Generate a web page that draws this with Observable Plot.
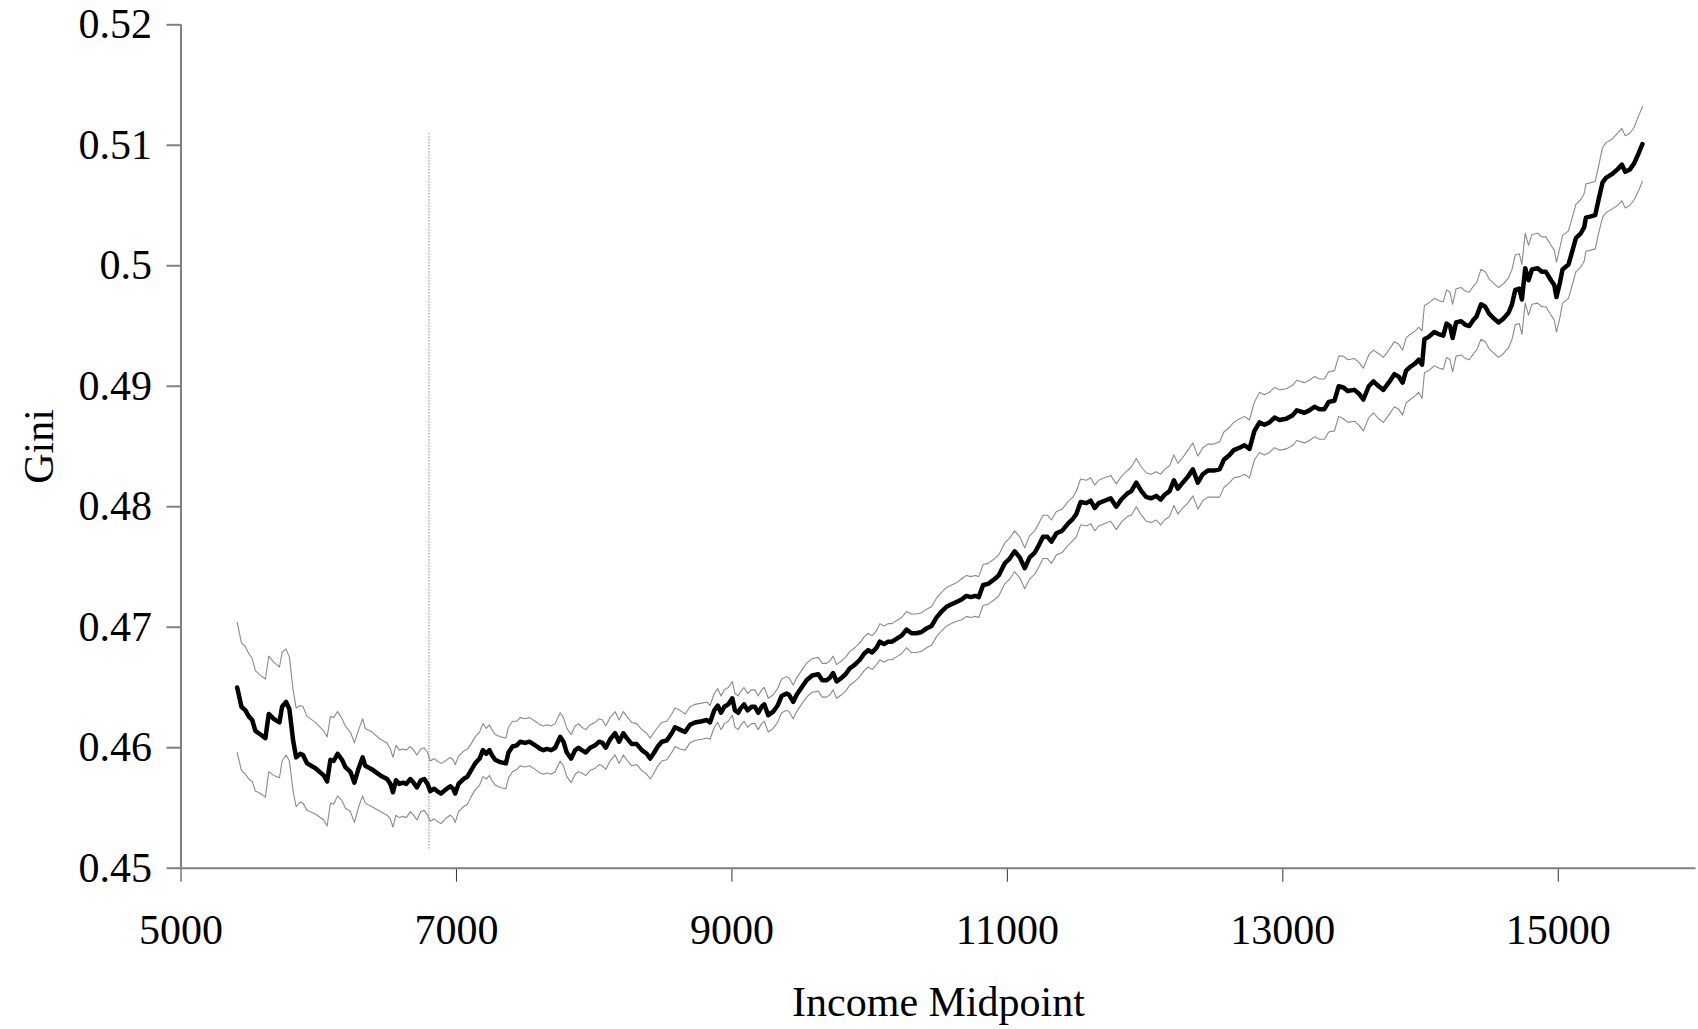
<!DOCTYPE html>
<html>
<head>
<meta charset="utf-8">
<script src="https://cdn.jsdelivr.net/npm/d3@7"></script>
<script src="https://cdn.jsdelivr.net/npm/@observablehq/plot@0.6"></script>
<style>
  html, body { margin: 0; padding: 0; background: #fff; }
  #chart svg { display: block; }
</style>
</head>
<body>
<div id="chart"></div>
<script>
// ---- Data ----
const income = [
  5408,5439,5468,5492,5517,5540,5577,5613,5637,5673,5715,5734,5763,5787,5814,5836,5867,5886,5915,5976,
  6036,6061,6085,6108,6137,6169,6193,6230,6259,6290,6319,6338,6387,6447,6496,6520,6539,6561,6585,6612,
  6636,6665,6689,6713,6742,6766,6790,6810,6839,6859,6888,6919,6955,6975,6991,7015,7051,7080,7105,7136,
  7168,7192,7216,7240,
  7257,7281,7318,7359,7378,7407,7439,7463,7499,7530,7572,7608,7632,7656,7688,7717,7753,7777,7801,7833,
  7862,7886,7910,7939,7971,8007,8036,8060,8084,8116,8152,8181,8212,8237,8273,8309,8346,8382,8406,8430,
  8462,8491,8527,8563,8587,8623,8660,8696,8732,8781,8817,8841,8872,8897,8921,8945,8974,9003,9022,9046,
  9059,9088,9114,9143,9167,9191,9216,9235,9264,9300,9332,9361,9397,9414,9445,9470,9506,9542,9583,9627,
  9656,9688,9711,9735,9760,9796,9825,9857,9893,9929,9960,9989,10018,10050,10074,10105,10134,10163,10203,10232,
  10268,10304,10340,10377,10413,10449,10485,10522,10558,10594,10631,10667,10703,10734,10768,10792,10824,10860,
  10908,10937,10981,11017,11053,11090,11126,11162,11199,11228,11259,11291,11320,11356,11397,11440,11476,11501,11532,11574,
  11605,11634,11663,11706,11750,11791,11827,11871,11900,11936,11973,12009,12045,12081,12113,12142,12178,12209,12238,12274,
  12311,12347,12383,12419,12456,12499,12541,12572,12613,12644,
  12686,12722,12758,12794,12831,12867,12903,12940,12976,13025,13072,13101,13157,13193,13230,13266,13302,13333,13375,13406,
  13440,13471,13520,13551,13585,13624,13658,13696,13730,13769,13810,13841,13870,13895,13924,13962,13986,14011,14028,14059,
  14100,14137,14165,14189,14214,14233,14258,14294,14325,14354,14383,14407,14439,14470,14499,14535,14567,14601,14639,14664,
  14688,14717,14736,14760,14784,14809,14850,14881,14910,14947,14971,14987,15012,15031,15074,15099,15128,15164,15188,15201,
  15237,15268,15297,15321,15346,15389,15430,15462,15486,15520,15551,15582,15611
];

const gini = [
  0.4650,0.4634,0.4631,0.4626,0.4623,0.4614,0.4611,0.4608,0.4628,0.4624,0.4621,0.4634,0.4638,0.4632,0.4606,0.4592,0.4595,0.4594,0.4587,0.4583,
  0.4577,0.4572,0.4590,0.4589,0.4595,0.4590,0.4584,0.4580,0.4571,0.4583,0.4592,0.4585,0.4582,0.4577,0.4574,0.4570,0.4563,0.4573,0.4570,0.4571,
  0.4570,0.4574,0.4571,0.4567,0.4573,0.4574,0.4570,0.4564,0.4566,0.4564,0.4562,0.4565,0.4568,0.4566,0.4562,0.4570,0.4574,0.4576,0.4581,0.4587,
  0.4591,0.4598,0.4595,0.4598,
  0.4594,0.4590,0.4588,0.4587,0.4596,0.4601,0.4602,0.4605,0.4604,0.4605,0.4602,0.4599,0.4598,0.4599,0.4598,0.4600,0.4609,0.4605,0.4596,0.4591,
  0.4598,0.4600,0.4598,0.4596,0.4600,0.4602,0.4605,0.4604,0.4600,0.4607,0.4612,0.4605,0.4612,0.4608,0.4603,0.4603,0.4598,0.4595,0.4591,0.4595,
  0.4601,0.4605,0.4606,0.4612,0.4617,0.4615,0.4613,0.4619,0.4621,0.4622,0.4623,0.4621,0.4631,0.4635,0.4629,0.4634,0.4636,0.4641,0.4631,0.4629,
  0.4632,0.4636,0.4631,0.4634,0.4634,0.4629,0.4634,0.4636,0.4627,0.4630,0.4635,0.4643,0.4645,0.4644,0.4638,0.4644,0.4650,0.4656,0.4660,0.4661,
  0.4656,0.4656,0.4658,0.4662,0.4655,0.4658,0.4661,0.4666,0.4669,0.4673,0.4678,0.4681,0.4679,0.4683,0.4688,0.4686,0.4688,0.4688,0.4691,0.4693,
  0.4698,0.4695,0.4695,0.4696,0.4699,0.4701,0.4708,0.4713,0.4717,0.4719,0.4721,0.4723,0.4726,0.4725,0.4726,0.4725,0.4735,0.4736,
  0.4740,0.4743,0.4753,0.4757,0.4763,0.4758,0.4749,0.4758,0.4762,0.4768,0.4775,0.4775,0.4771,0.4778,0.4780,0.4786,0.4790,0.4794,0.4804,0.4803,
  0.4805,0.4799,0.4803,0.4805,0.4807,0.4800,0.4806,0.4811,0.4813,0.4820,0.4813,0.4808,0.4807,0.4809,0.4806,0.4810,0.4813,0.4822,0.4815,0.4820,
  0.4825,0.4831,0.4820,0.4827,0.4830,0.4830,0.4831,0.4839,0.4843,0.4847,
  0.4849,0.4851,0.4848,0.4863,0.4870,0.4868,0.4870,0.4874,0.4872,0.4873,0.4876,0.4880,0.4878,0.4880,0.4883,0.4881,0.4881,0.4887,0.4888,0.4900,
  0.4899,0.4896,0.4897,0.4894,0.4889,0.4900,0.4904,0.4900,0.4897,0.4903,0.4910,0.4908,0.4903,0.4913,0.4916,0.4919,0.4922,0.4918,0.4939,0.4941,
  0.4945,0.4943,0.4942,0.4952,0.4950,0.4940,0.4953,0.4954,0.4951,0.4950,0.4955,0.4958,0.4968,0.4966,0.4960,0.4956,0.4953,0.4956,0.4961,0.4968,
  0.4980,0.4981,0.4972,0.4998,0.4988,0.4997,0.4998,0.4995,0.4995,0.4988,0.4984,0.4974,0.4986,0.4997,0.5001,0.5011,0.5023,0.5027,0.5032,0.5040,
  0.5041,0.5042,0.5057,0.5069,0.5073,0.5076,0.5080,0.5084,0.5078,0.5080,0.5085,0.5093,0.5101
];

// Half-width of the confidence band at each point, in units of 0.0001 Gini
const ciHalf = [
  54,53,53,52,51,50,49,49,48,47, 46,45,44,43,42,41,40,40,39,38,
  37,37,36,36,35,34,34,33,33,32, 32,31,31,30,30,29,29,29,28,28,
  28,27,27,27,26,26,26,25,25,25, 25,24,24,24,24,23,23,23,22,22,
  22,22,21,21,21,21,21,21,21,21, 20,20,20,20,20,20,20,20,20,20,
  20,20,20,20,20,20,19,19,19,19, 19,19,18,18,18,18,18,18,18,17,
  17,17,17,17,16,16,16,16,16,16, 15,15,15,15,15,14,14,14,14,14,
  14,14,14,14,14,14,14,14,14,14, 14,14,14,14,14,14,14,14,14,14,
  14,14,14,14,14,14,14,14,14,14, 14,14,14,14,14,14,14,14,15,15,
  15,15,15,15,15,16,16,16,16,16, 16,16,16,16,16,17,17,17,17,17,
  17,17,17,17,17,17,17,17,17,18, 18,18,18,18,18,18,18,18,18,19,
  19,19,19,19,19,19,19,19,19,19, 20,20,20,20,20,20,21,21,21,21,
  21,21,22,22,22,22,22,22,23,23, 23,23,24,24,24,24,25,25,25,25,
  25,25,25,25,25,25,25,25,25,25, 25,25,26,26,26,26,26,26,26,27,
  27,27,27,27,27,27,27,27,27,28, 28,28,28,28,28,28,28,28,28,28,
  28,28,28,28,29,29,29,29,29,29, 29,29,29,29,29,29,29,29,29,29,
  29,29,29,29,29,28,28,28,28,28, 28,28,28,28,28,29,29,29,30,30,
  30,30,30,31,31
];

const xTicks = [5000, 7000, 9000, 11000, 13000, 15000];
const yTicks = [0.45, 0.46, 0.47, 0.48, 0.49, 0.5, 0.51, 0.52];
const markerIncome = 6800;
const markerGini = [0.4516, 0.5111];
const xLabel = "Income Midpoint";
const yLabel = "Gini";

// ---- Build table ----
const n = Math.min(income.length, gini.length, ciHalf.length);
const rows = d3.range(n).map(i => ({
  income: income[i],
  gini: gini[i],
  upper: gini[i] + ciHalf[i] / 10000,
  lower: gini[i] - ciHalf[i] / 10000
}));

const font = "'Liberation Serif', 'Times New Roman', Times, serif";

const chart = Plot.plot({
  width: 1698,
  height: 1029,
  marginLeft: 180.5,
  marginRight: 2.5,
  marginTop: 24.3,
  marginBottom: 161.3,
  style: { fontFamily: font, fontSize: "42px", background: "#fff", color: "#000" },
  x: { domain: [5000, 16000], label: null },
  y: { domain: [0.45, 0.52], label: null },
  marks: [
    Plot.axisX(xTicks, { tickSize: 14, tickPadding: 32, stroke: "#333", strokeWidth: 1, fontSize: 42, tickFormat: d => String(d), label: null }),
    Plot.axisY(yTicks, { tickSize: 14, tickPadding: 15, stroke: "#808080", strokeWidth: 2, fontSize: 42, tickFormat: d => String(d), label: null }),
    Plot.ruleY([0.45], { stroke: "#808080", strokeWidth: 2 }),
    Plot.ruleX([5000], { stroke: "#808080", strokeWidth: 2 }),
    Plot.ruleX([markerIncome], { y1: markerGini[0], y2: markerGini[1], stroke: "#808080", strokeWidth: 1.2, strokeDasharray: "1.2,1.8" }),
    Plot.line(rows, { x: "income", y: "upper", stroke: "#8a8a8a", strokeWidth: 1.1 }),
    Plot.line(rows, { x: "income", y: "lower", stroke: "#8a8a8a", strokeWidth: 1.1 }),
    Plot.line(rows, { x: "income", y: "gini", stroke: "#000", strokeWidth: 4.5, strokeLinejoin: "round", strokeLinecap: "round" }),
    Plot.text([xLabel], { text: d => d, frameAnchor: "bottom", dy: 148, lineAnchor: "bottom", textAnchor: "middle", fontSize: 42, fill: "#000" }),
    Plot.text([yLabel], { text: d => d, frameAnchor: "left", dx: -128.5, rotate: -90, lineAnchor: "bottom", textAnchor: "middle", fontSize: 42, fill: "#000" })
  ]
});

document.getElementById("chart").appendChild(chart);
</script>
</body>
</html>
